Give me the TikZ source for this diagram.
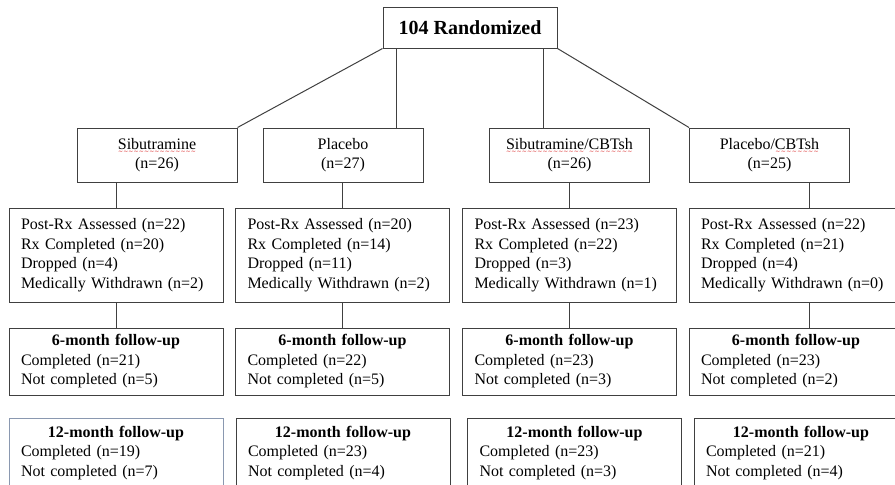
\documentclass[tikz,border=0pt]{standalone}
\usepackage{fontspec}
\setmainfont{Liberation Serif}
\newfontfamily\wavefont{DejaVu Sans}

\definecolor{linegray}{HTML}{404040}
\definecolor{slate}{HTML}{8A98B0}
\definecolor{spellred}{HTML}{D82020}
\newlength{\spellw}
\newcommand{\spellwave}[1]{\settowidth{\spellw}{#1}\rlap{#1}\raisebox{-4.6pt}{\textcolor{spellred}{\fontsize{6}{6}\wavefont\xleaders\hbox{∼}\hskip\spellw}}}

\begin{document}
\begin{tikzpicture}[x=1pt, y=-1pt,
    box/.style={draw=linegray, line width=1pt, inner ysep=0pt, font=\fontsize{16}{19.5}\selectfont},
    armbox/.style={box, align=center, text width=136pt, inner xsep=12pt, minimum height=54pt},
    stagebox/.style={box, align=left, text width=190pt, inner xsep=12pt},
    link/.style={draw=linegray, line width=1pt}]
    \useasboundingbox (0,0) rectangle (895,485);
    \clip (0,0) rectangle (895,485);

    % Randomisation
    \node[box, minimum width=174pt, minimum height=41pt, font=\fontsize{20}{24}\selectfont\bfseries] (rand) at (470,27.5) {104 Randomized};

    % Four arms
    \node[armbox] (sib) at (157,155) {\spellwave{Sibutramine}\\(n=26)};
    \node[armbox] (pla) at (343,155) {Placebo\\(n=27)};
    \node[armbox] (sibc) at (569.5,155) {\spellwave{Sibutramine}/\spellwave{CBTsh}\\(n=26)};
    \node[armbox] (plac) at (769.5,155) {Placebo/\spellwave{CBTsh}\\(n=25)};

    % End of treatment
    \node[stagebox, minimum height=94pt] (rx1) at (116,255) {Post-Rx Assessed (n=22)\\Rx Completed (n=20)\\Dropped (n=4)\\Medically Withdrawn (n=2)};
    \node[stagebox, minimum height=94pt] (rx2) at (342.5,255) {Post-Rx Assessed (n=20)\\Rx Completed (n=14)\\Dropped (n=11)\\Medically Withdrawn (n=2)};
    \node[stagebox, minimum height=94pt] (rx3) at (569.5,255) {Post-Rx Assessed (n=23)\\Rx Completed (n=22)\\Dropped (n=3)\\Medically Withdrawn (n=1)};
    \node[stagebox, minimum height=94pt] (rx4) at (796,255) {Post-Rx Assessed (n=22)\\Rx Completed (n=21)\\Dropped (n=4)\\Medically Withdrawn (n=0)};

    % 6-month follow-up
    \node[stagebox, minimum height=67pt] (six1) at (116,361.5) {{\centering\textbf{6-month follow-up}\par}Completed (n=21)\\Not completed (n=5)};
    \node[stagebox, minimum height=67pt] (six2) at (342.5,361.5) {{\centering\textbf{6-month follow-up}\par}Completed (n=22)\\Not completed (n=5)};
    \node[stagebox, minimum height=67pt] (six3) at (569.5,361.5) {{\centering\textbf{6-month follow-up}\par}Completed (n=23)\\Not completed (n=3)};
    \node[stagebox, minimum height=67pt] (six4) at (796,361.5) {{\centering\textbf{6-month follow-up}\par}Completed (n=23)\\Not completed (n=2)};

    % 12-month follow-up
    \node[stagebox, minimum height=70pt, draw=slate, line width=0.8pt] (twelve1) at (116,453) {{\centering\textbf{12-month follow-up}\par}Completed (n=19)\\Not completed (n=7)};
    \node[stagebox, minimum height=70pt] (twelve2) at (343,453) {{\centering\textbf{12-month follow-up}\par}Completed (n=23)\\Not completed (n=4)};
    \node[stagebox, minimum height=70pt] (twelve3) at (574.5,453) {{\centering\textbf{12-month follow-up}\par}Completed (n=23)\\Not completed (n=3)};
    \node[stagebox, minimum height=70pt] (twelve4) at (801,453) {{\centering\textbf{12-month follow-up}\par}Completed (n=21)\\Not completed (n=4)};

    % Connectors
    \draw[link] (rand.south west) -- (sib.north east);
    \draw[link] ([xshift=14pt]rand.south west) -- ([xshift=14pt]rand.south west |- pla.north);
    \draw[link] ([xshift=-14pt]rand.south east) -- ([xshift=-14pt]rand.south east |- sibc.north);
    \draw[link] (rand.south east) -- (plac.north west);
    \draw[link] (rx1.north) -- (rx1.north |- sib.south);
    \draw[link] (rx2.north) -- (rx2.north |- pla.south);
    \draw[link] (rx3.north) -- (rx3.north |- sibc.south);
    \draw[link] ([xshift=13pt]rx4.north) -- ([xshift=13pt]rx4.north |- plac.south);
    \foreach \i in {1,2,3}
        \draw[link] (rx\i.south) -- (six\i.north);
    \draw[link] ([xshift=13pt]rx4.south) -- ([xshift=13pt]six4.north);
\end{tikzpicture}
\end{document}
